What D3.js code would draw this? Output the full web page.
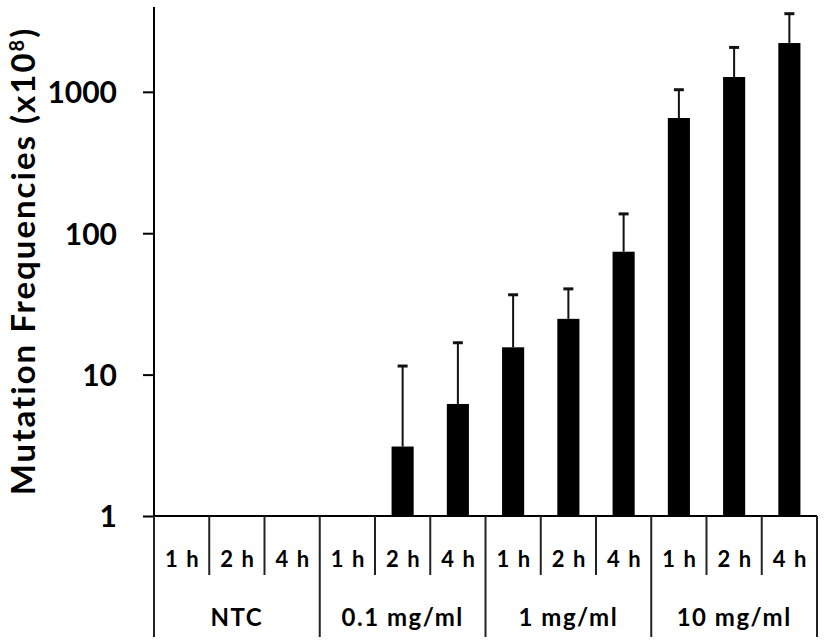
<!DOCTYPE html>
<html>
<head>
<meta charset="utf-8">
<script src="https://cdn.jsdelivr.net/npm/d3@7"></script>
<style>
    body { margin: 0; background: #fff; }
    svg { display: block; }
    text { font-family: Lato, "Open Sans", sans-serif; font-weight: bold; fill: #000; }
</style>
</head>
<body>
<svg width="827" height="642"></svg>
<script>
// data
var groups = ["NTC", "0.1 mg/ml", "1 mg/ml", "10 mg/ml"];
var hours = ["1 h", "2 h", "4 h"];
// mean mutation frequency (x10^8), one per group/hour, null = no bar
var means = [null, null, null, null, 3.1, 6.2, 15.6, 24.8, 74, 653, 1273, 2214];
// upper error (SD) added on top of the mean
var errs = [null, null, null, null, 8.4, 10.6, 21.1, 15.6, 63, 382, 788, 1356];
var yTicks = [1, 10, 100, 1000];

(function() {
    var svg = d3.select("svg");

    var left = 154, right = 817, base = 516, top = 7;

    var cats = [];
    groups.forEach(function(g, gi) {
        hours.forEach(function(h, hi) {
            cats.push({ group: g, hour: h, i: gi * hours.length + hi });
        });
    });

    var x = d3.scaleBand()
        .domain(cats.map(function(d) { return d.i; }))
        .range([left, right])
        .paddingInner(0.6)
        .paddingOuter(0.3);
    var step = x.step();

    var y = d3.scaleLog()
        .domain([1, Math.pow(10, 3.6)])
        .range([base, top]);

    // y axis
    var yAxis = d3.axisLeft(y)
        .tickValues(yTicks)
        .tickFormat(d3.format("d"))
        .tickSize(11)
        .tickPadding(26);

    var gy = svg.append("g")
        .attr("transform", "translate(" + left + ",0)")
        .call(yAxis);
    gy.select(".domain").remove();
    gy.selectAll(".tick line").attr("stroke", "#000").attr("stroke-width", 2);
    gy.selectAll(".tick text")
        .attr("dy", "0.36em")
        .style("font-size", "30px")
        .style("font-family", "Lato, sans-serif")
        .style("font-weight", "bold");

    svg.append("line")
        .attr("x1", left).attr("x2", left)
        .attr("y1", top).attr("y2", base)
        .attr("stroke", "#000").attr("stroke-width", 2);

    // bars
    var rows = means.map(function(m, i) { return { i: i, v: m, e: errs[i] }; })
        .filter(function(d) { return d.v != null; });

    svg.selectAll("rect.bar")
        .data(rows)
        .enter().append("rect")
        .attr("class", "bar")
        .attr("x", function(d) { return x(d.i); })
        .attr("width", x.bandwidth())
        .attr("y", function(d) { return y(d.v); })
        .attr("height", function(d) { return base - y(d.v); })
        .attr("fill", "#000");

    // error bars, upper side only
    var eb = svg.selectAll("g.err")
        .data(rows)
        .enter().append("g")
        .attr("class", "err");

    eb.append("line")
        .attr("x1", function(d) { return x(d.i) + x.bandwidth() / 2; })
        .attr("x2", function(d) { return x(d.i) + x.bandwidth() / 2; })
        .attr("y1", function(d) { return y(d.v); })
        .attr("y2", function(d) { return y(d.v + d.e); })
        .attr("stroke", "#111").attr("stroke-width", 2);

    eb.append("line")
        .attr("x1", function(d) { return x(d.i) + x.bandwidth() / 2 - 5; })
        .attr("x2", function(d) { return x(d.i) + x.bandwidth() / 2 + 5; })
        .attr("y1", function(d) { return y(d.v + d.e); })
        .attr("y2", function(d) { return y(d.v + d.e); })
        .attr("stroke", "#111").attr("stroke-width", 3);

    // x axis baseline
    svg.append("line")
        .attr("x1", left).attr("x2", right)
        .attr("y1", base).attr("y2", base)
        .attr("stroke", "#000").attr("stroke-width", 2);

    // separators between hours and between groups
    var cuts = d3.range(cats.length + 1);
    svg.selectAll("line.sep")
        .data(cuts)
        .enter().append("line")
        .attr("class", "sep")
        .attr("x1", function(k) { return left + k * step; })
        .attr("x2", function(k) { return left + k * step; })
        .attr("y1", base)
        .attr("y2", function(k) { return k % hours.length === 0 ? 637 : 575; })
        .attr("stroke", "#222").attr("stroke-width", 2);

    // hour labels
    svg.selectAll("text.hour")
        .data(cats)
        .enter().append("text")
        .attr("class", "hour")
        .attr("x", function(d) { return x(d.i) + x.bandwidth() / 2 + 1; })
        .attr("y", 567)
        .attr("text-anchor", "middle")
        .style("font-size", "22px")
        .style("letter-spacing", "1.5px")
        .text(function(d) { return d.hour; });

    // group labels
    svg.selectAll("text.group")
        .data(groups)
        .enter().append("text")
        .attr("class", "group")
        .attr("x", function(d, gi) { return left + (gi + 0.5) * hours.length * step; })
        .attr("y", 626)
        .attr("text-anchor", "middle")
        .style("font-size", "24px")
        .style("letter-spacing", "1.5px")
        .text(function(d) { return d; });

    // y axis title
    var title = svg.append("text")
        .attr("transform", "translate(35,261) rotate(-90)")
        .attr("text-anchor", "middle")
        .style("font-size", "33px")
        .style("letter-spacing", "2px");
    title.append("tspan").text("Mutation Frequencies (x10");
    title.append("tspan").attr("dy", -11).style("font-size", "20px").text("8");
    title.append("tspan").attr("dy", 11).text(")");
})();
</script>
</body>
</html>
